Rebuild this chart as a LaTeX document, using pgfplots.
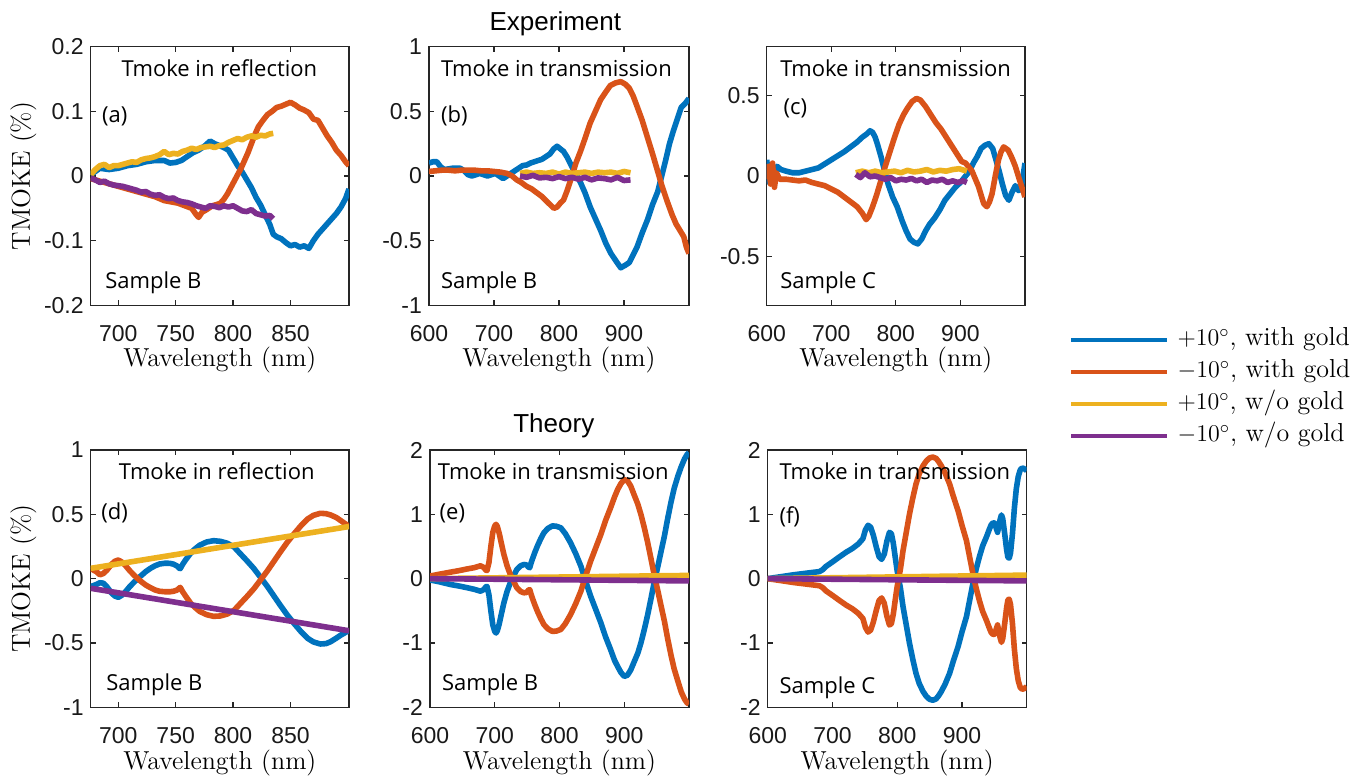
\documentclass[border=0pt]{standalone}
\usepackage{fontspec}
\usepackage{pgfplots}
\pgfplotsset{compat=1.18}
\newfontfamily\arial{Liberation Sans}
\newfontfamily\osans{Open Sans}
\definecolor{mblue}{rgb}{0,0.447,0.741}
\definecolor{morange}{rgb}{0.85,0.325,0.098}
\definecolor{myellow}{rgb}{0.929,0.694,0.125}
\definecolor{mpurple}{rgb}{0.494,0.184,0.556}
\pgfplotsset{
  every axis title shift=0pt,
  panel/.style={
    scale only axis, anchor=south west,
    axis line style={line width=0.6pt, black!85},
    every tick/.style={line width=0.6pt, black!85},
    major tick length=2.5pt,
    tick align=inside,
    tick label style={font=\arial\fontsize{11.5}{13}\selectfont, black!90},
    xticklabel style={yshift=-6.5pt},
    xlabel={Wavelength (nm)},
    xlabel style={font=\fontsize{13}{15}\selectfont, at={(axis description cs:0.5,-0.212)}, anchor=center},
    ylabel style={font=\fontsize{13}{15}\selectfont, at={(axis description cs:-0.261,0.5)}, anchor=center},
    every axis plot/.append style={line width=2.8pt, line join=round, mark=none},
  },
}
\tikzset{ann/.style={font=\osans\fontsize{11}{13}\selectfont, inner sep=0pt, anchor=west}}
\begin{document}
\begin{tikzpicture}
\useasboundingbox (0,0) rectangle (685.5pt,388.5pt);
% ---------------- (a)
\begin{axis}[panel, at={(45.35pt,235.85pt)}, width=129.15pt, height=129.3pt,
  xmin=676, xmax=901, ymin=-0.2, ymax=0.2,
  xtick={700,750,800,850}, xticklabels={700,750,800,850},
  ytick={-0.2,-0.1,0,0.1,0.2}, yticklabels={-0.2,-0.1,0,0.1,0.2},
  ylabel={TMOKE (\%)}]
\addplot[mblue] coordinates {(676,0.002) (684,0.012) (692,0.010) (700,0.012) (708,0.016) (716,0.018) (724,0.022) (732,0.024) (740,0.024) (745,0.020) (750,0.021) (755,0.024) (760,0.030) (765,0.036) (770,0.040) (775,0.046) (780,0.054) (784,0.050) (788,0.047) (792,0.044) (796,0.040) (800,0.028) (804,0.016) (808,0.006) (812,-0.006) (816,-0.018) (820,-0.033) (824,-0.045) (828,-0.060) (832,-0.075) (835,-0.090) (838,-0.094) (842,-0.097) (846,-0.103) (850,-0.108) (854,-0.106) (858,-0.110) (862,-0.108) (866,-0.112) (870,-0.100) (874,-0.090) (878,-0.082) (882,-0.074) (886,-0.066) (890,-0.058) (894,-0.048) (898,-0.035) (901,-0.020)};
\addplot[morange] coordinates {(676,-0.004) (684,-0.008) (692,-0.012) (700,-0.016) (708,-0.020) (716,-0.024) (724,-0.028) (732,-0.032) (740,-0.038) (746,-0.040) (752,-0.042) (758,-0.046) (764,-0.050) (768,-0.060) (770,-0.064) (773,-0.056) (777,-0.052) (782,-0.046) (786,-0.044) (789,-0.042) (792,-0.036) (795,-0.028) (798,-0.018) (801,-0.008) (804,0.002) (807,0.012) (810,0.024) (813,0.036) (816,0.050) (819,0.064) (822,0.076) (826,0.086) (830,0.095) (834,0.100) (838,0.106) (842,0.108) (846,0.111) (850,0.114) (854,0.110) (858,0.105) (862,0.102) (866,0.098) (870,0.088) (874,0.086) (878,0.074) (882,0.062) (886,0.052) (890,0.040) (894,0.032) (898,0.022) (901,0.016)};
\addplot[myellow] coordinates {(676,0.002) (680,0.010) (684,0.016) (688,0.018) (692,0.013) (696,0.016) (700,0.016) (704,0.018) (708,0.020) (712,0.022) (716,0.021) (720,0.025) (724,0.027) (728,0.028) (732,0.030) (736,0.033) (740,0.038) (744,0.033) (748,0.035) (752,0.034) (756,0.038) (760,0.040) (764,0.043) (768,0.041) (772,0.044) (776,0.045) (780,0.046) (784,0.044) (788,0.047) (792,0.048) (796,0.052) (800,0.055) (804,0.058) (808,0.056) (812,0.060) (816,0.062) (820,0.060) (824,0.063) (828,0.062) (832,0.065) (835,0.066)};
\addplot[mpurple] coordinates {(676,-0.003) (680,-0.006) (684,-0.010) (688,-0.008) (692,-0.012) (696,-0.014) (700,-0.015) (704,-0.016) (708,-0.018) (712,-0.020) (716,-0.022) (720,-0.025) (724,-0.024) (728,-0.028) (732,-0.030) (736,-0.029) (740,-0.033) (744,-0.035) (748,-0.034) (752,-0.038) (756,-0.040) (760,-0.041) (764,-0.043) (768,-0.046) (772,-0.048) (776,-0.050) (780,-0.046) (784,-0.047) (788,-0.049) (792,-0.046) (796,-0.048) (800,-0.046) (804,-0.050) (808,-0.054) (812,-0.055) (816,-0.052) (820,-0.058) (824,-0.060) (828,-0.062) (832,-0.061) (835,-0.066)};
\node[ann, anchor=center] at (rel axis cs:0.498,0.918) {Tmoke in reflection};
\node[ann] at (rel axis cs:0.043,0.73) {(a)};
\node[ann] at (rel axis cs:0.055,0.086) {Sample B};
\end{axis}
% ---------------- (b)
\begin{axis}[panel, at={(214.5pt,235.85pt)}, width=130pt, height=129.3pt,
  xmin=600, xmax=1000, ymin=-1, ymax=1,
  xtick={600,700,800,900}, xticklabels={600,700,800,900},
  ytick={-1,-0.5,0,0.5,1}, yticklabels={-1,-0.5,0,0.5,1},
  title={Experiment}, title style={font=\arial\fontsize{13}{15}\selectfont, at={(axis description cs:0.486,1.087)}, anchor=center}]
\addplot[mblue] coordinates {(600,0.10) (606,0.11) (612,0.11) (618,0.07) (624,0.05) (630,0.055) (636,0.06) (642,0.06) (648,0.06) (654,0.04) (660,0.01) (666,0.00) (672,0.01) (678,0.02) (684,0.01) (690,0.00) (696,0.01) (702,0.02) (708,0.00) (714,-0.02) (720,0.00) (726,0.02) (732,0.04) (738,0.06) (744,0.08) (750,0.085) (756,0.10) (762,0.11) (768,0.12) (774,0.13) (780,0.15) (786,0.17) (792,0.21) (797,0.23) (802,0.21) (807,0.19) (812,0.15) (817,0.10) (822,0.05) (828,0.00) (833,-0.05) (840,-0.13) (848,-0.24) (856,-0.33) (864,-0.42) (872,-0.52) (880,-0.60) (888,-0.66) (895,-0.71) (902,-0.69) (908,-0.67) (914,-0.61) (920,-0.55) (928,-0.44) (936,-0.34) (944,-0.22) (952,-0.12) (958,0.00) (964,0.12) (970,0.25) (976,0.35) (982,0.44) (988,0.53) (994,0.56) (1000,0.60)};
\addplot[morange] coordinates {(600,0.035) (610,0.04) (620,0.045) (630,0.045) (640,0.04) (650,0.045) (660,0.045) (670,0.045) (680,0.04) (690,0.04) (700,0.035) (710,0.03) (720,0.02) (728,0.00) (735,-0.03) (742,-0.05) (750,-0.08) (758,-0.10) (766,-0.13) (774,-0.16) (782,-0.20) (788,-0.23) (792,-0.25) (797,-0.24) (802,-0.21) (807,-0.185) (812,-0.12) (816,-0.06) (820,0.00) (826,0.10) (833,0.19) (840,0.29) (848,0.41) (856,0.50) (864,0.59) (872,0.65) (879,0.70) (887,0.72) (895,0.73) (902,0.71) (908,0.68) (914,0.62) (920,0.54) (928,0.43) (936,0.30) (944,0.17) (951,0.05) (958,-0.07) (966,-0.19) (974,-0.30) (980,-0.37) (986,-0.42) (992,-0.47) (996,-0.55) (1000,-0.60)};
\addplot[myellow] coordinates {(740,0.02) (750,0.03) (760,0.02) (770,0.025) (780,0.02) (790,0.03) (800,0.015) (810,0.03) (820,0.02) (830,0.025) (840,0.03) (850,0.02) (860,0.03) (870,0.025) (880,0.03) (890,0.02) (900,0.035) (910,0.025)};
\addplot[mpurple] coordinates {(740,0.00) (750,-0.01) (760,0.005) (770,-0.015) (780,-0.01) (790,-0.02) (800,-0.005) (810,-0.02) (820,-0.01) (830,-0.025) (840,-0.01) (850,-0.03) (860,-0.015) (870,-0.02) (880,-0.03) (890,-0.01) (900,-0.035) (910,-0.03)};
\node[ann] at (rel axis cs:0.045,0.918) {Tmoke in transmission};
\node[ann] at (rel axis cs:0.045,0.733) {(b)};
\node[ann] at (rel axis cs:0.045,0.086) {Sample B};
\end{axis}
% ---------------- (c)
\begin{axis}[panel, at={(383.35pt,235.85pt)}, width=129.15pt, height=129.3pt,
  xmin=600, xmax=1000, ymin=-0.8, ymax=0.8,
  xtick={600,700,800,900}, xticklabels={600,700,800,900},
  ytick={-0.5,0,0.5}, yticklabels={-0.5,0,0.5},
  legend style={at={(axis description cs:1.172,-0.08)}, anchor=north west, draw=none, fill=none, inner sep=0pt, outer sep=0pt, row sep=2pt, column sep=3.5pt, font=\fontsize{13}{15}\selectfont, nodes={inner sep=1pt, text height=9pt, text depth=3pt}},
  legend cell align=left,
  legend image code/.code={\draw[#1, line width=1.6pt, line cap=butt] (0pt,0pt) -- (48pt,0pt);}]
\addplot[mblue] coordinates {(600,0.10) (604,-0.04) (608,0.06) (612,-0.02) (616,0.06) (622,0.04) (630,0.03) (640,0.02) (650,0.02) (660,0.03) (670,0.04) (680,0.05) (690,0.075) (700,0.10) (710,0.125) (720,0.15) (730,0.18) (740,0.21) (748,0.24) (755,0.26) (760,0.28) (764,0.27) (768,0.24) (772,0.19) (777,0.12) (782,0.04) (788,-0.05) (795,-0.13) (802,-0.19) (810,-0.28) (816,-0.34) (822,-0.39) (828,-0.41) (834,-0.42) (840,-0.39) (846,-0.34) (852,-0.30) (860,-0.26) (868,-0.21) (876,-0.15) (884,-0.11) (892,-0.07) (900,-0.04) (908,0.00) (914,0.03) (920,0.08) (926,0.12) (932,0.17) (938,0.19) (944,0.20) (950,0.17) (955,0.10) (960,0.03) (965,-0.05) (970,-0.12) (975,-0.15) (980,-0.10) (985,-0.06) (990,-0.09) (994,-0.08) (1000,0.08)};
\addlegendentry{$+10^\circ$, with gold}
\addplot[morange] coordinates {(600,-0.02) (603,0.06) (606,-0.05) (609,0.08) (612,-0.07) (615,0.02) (620,-0.02) (630,-0.02) (640,-0.025) (650,-0.03) (660,-0.025) (670,-0.04) (680,-0.05) (690,-0.06) (700,-0.08) (710,-0.10) (720,-0.13) (730,-0.16) (740,-0.19) (748,-0.23) (754,-0.27) (758,-0.25) (764,-0.19) (770,-0.12) (776,-0.04) (782,0.04) (790,0.14) (798,0.24) (805,0.32) (812,0.38) (818,0.42) (825,0.46) (832,0.48) (838,0.47) (846,0.43) (854,0.38) (862,0.33) (870,0.29) (878,0.24) (886,0.19) (894,0.14) (902,0.09) (908,0.08) (918,0.03) (928,-0.065) (936,-0.17) (941,-0.19) (945,-0.16) (949,-0.11) (954,0.00) (959,0.10) (963,0.15) (967,0.18) (974,0.16) (980,0.11) (985,0.06) (992,-0.03) (1000,-0.13)};
\addlegendentry{$-10^\circ$, with gold}
\addplot[myellow] coordinates {(738,0.02) (748,0.03) (758,0.02) (768,0.03) (778,0.02) (788,0.025) (798,0.03) (808,0.02) (818,0.035) (828,0.025) (838,0.03) (848,0.04) (858,0.025) (868,0.035) (878,0.03) (888,0.04) (898,0.045) (910,0.03)};
\addlegendentry{$+10^\circ$, w/o gold}
\addplot[mpurple] coordinates {(738,0.01) (745,-0.01) (752,0.02) (760,-0.005) (768,0.0) (776,-0.01) (784,-0.02) (792,-0.01) (800,-0.03) (808,-0.02) (816,-0.025) (824,-0.015) (832,-0.03) (840,-0.02) (848,-0.04) (856,-0.025) (864,-0.03) (872,-0.02) (880,-0.04) (888,-0.03) (896,-0.04) (904,-0.03) (910,-0.04)};
\addlegendentry{$-10^\circ$, w/o gold}
\node[ann] at (rel axis cs:0.051,0.918) {Tmoke in transmission};
\node[ann] at (rel axis cs:0.064,0.763) {(c)};
\node[ann] at (rel axis cs:0.051,0.086) {Sample C};
\end{axis}
% ---------------- (d)
\begin{axis}[panel, at={(45.35pt,34.85pt)}, width=129.15pt, height=128.65pt,
  xmin=676, xmax=901, ymin=-1, ymax=1,
  xtick={700,750,800,850}, xticklabels={700,750,800,850},
  ytick={-1,-0.5,0,0.5,1}, yticklabels={-1,-0.5,0,0.5,1},
  ylabel={TMOKE (\%)}, xlabel style={at={(axis description cs:0.5,-0.217)}}]
\addplot[mblue] coordinates {(676,-0.062) (681,-0.045) (684,-0.032) (687,-0.035) (690,-0.062) (694,-0.11) (697,-0.135) (700,-0.145) (703,-0.13) (706,-0.105) (710,-0.062) (714,-0.025) (719,0.016) (724,0.055) (728,0.08) (732,0.10) (736,0.114) (741,0.12) (745,0.119) (748,0.113) (751,0.10) (753,0.082) (754,0.078) (756,0.110) (759,0.15) (763,0.197) (767,0.232) (771,0.26) (777,0.285) (783,0.295) (789,0.29) (795,0.275) (801,0.245) (806,0.197) (812,0.14) (818,0.08) (824,0.01) (830,-0.062) (836,-0.14) (841,-0.205) (847,-0.28) (853,-0.347) (859,-0.41) (865,-0.464) (870,-0.492) (876,-0.508) (881,-0.505) (885,-0.49) (890,-0.462) (894,-0.438) (898,-0.418) (901,-0.400)};
\addplot[morange] coordinates {(676,0.078) (681,0.054) (684,0.030) (687,0.040) (690,0.065) (694,0.11) (697,0.135) (700,0.145) (703,0.13) (706,0.105) (710,0.062) (714,0.025) (719,-0.016) (724,-0.05) (728,-0.07) (732,-0.088) (736,-0.098) (741,-0.102) (745,-0.102) (748,-0.098) (751,-0.09) (753,-0.075) (754,-0.068) (756,-0.10) (759,-0.14) (763,-0.19) (767,-0.225) (771,-0.255) (777,-0.28) (783,-0.293) (789,-0.29) (795,-0.275) (801,-0.245) (806,-0.197) (812,-0.14) (818,-0.08) (824,-0.01) (830,0.062) (836,0.14) (841,0.205) (847,0.28) (853,0.347) (859,0.41) (865,0.464) (870,0.492) (876,0.508) (881,0.505) (885,0.495) (890,0.475) (894,0.45) (898,0.425) (901,0.405)};
\addplot[myellow] coordinates {(676,0.08) (901,0.405)};
\addplot[mpurple] coordinates {(676,-0.075) (901,-0.405)};
\node[ann, anchor=center] at (rel axis cs:0.488,0.916) {Tmoke in reflection};
\node[ann] at (rel axis cs:0.04,0.754) {(d)};
\node[ann] at (rel axis cs:0.059,0.087) {Sample B};
\end{axis}
% ---------------- (e)
\begin{axis}[panel, at={(215pt,34.85pt)}, width=129.5pt, height=128.65pt,
  xmin=600, xmax=1000, ymin=-2, ymax=2,
  xtick={600,700,800,900}, xticklabels={600,700,800,900},
  ytick={-2,-1,0,1,2}, yticklabels={-2,-1,0,1,2},
  xlabel style={at={(axis description cs:0.5,-0.217)}},
  title={Theory}, title style={font=\arial\fontsize{13}{15}\selectfont, at={(axis description cs:0.478,1.094)}, anchor=center}]
\addplot[mblue] coordinates {(600,-0.02) (615,-0.05) (631,-0.09) (645,-0.115) (657,-0.14) (668,-0.165) (678,-0.195) (683,-0.17) (686,-0.13) (688,-0.12) (691,-0.25) (694,-0.50) (697,-0.72) (700,-0.82) (702,-0.845) (704,-0.81) (707,-0.70) (710,-0.56) (714,-0.38) (719,-0.20) (724,-0.065) (729,0.04) (734,0.14) (740,0.20) (745,0.22) (749,0.215) (752,0.18) (754,0.17) (756,0.24) (758,0.30) (762,0.41) (766,0.51) (771,0.62) (776,0.715) (782,0.78) (789,0.82) (795,0.815) (802,0.79) (809,0.70) (817,0.56) (825,0.39) (833,0.195) (840,-0.03) (848,-0.27) (856,-0.48) (864,-0.69) (871,-0.90) (879,-1.105) (885,-1.27) (890,-1.37) (895,-1.46) (900,-1.52) (905,-1.50) (910,-1.42) (915,-1.30) (921,-1.157) (926,-0.99) (931,-0.79) (936,-0.57) (941,-0.325) (946,-0.07) (952,0.195) (957,0.43) (962,0.66) (967,0.93) (972,1.18) (977,1.40) (983,1.60) (988,1.74) (993,1.86) (997,1.93) (1000,1.96)};
\addplot[morange] coordinates {(600,0.04) (615,0.07) (631,0.10) (645,0.125) (657,0.15) (668,0.17) (678,0.20) (683,0.175) (686,0.135) (688,0.125) (691,0.25) (694,0.50) (697,0.72) (700,0.82) (702,0.845) (704,0.81) (707,0.70) (710,0.56) (714,0.38) (719,0.20) (724,0.065) (729,-0.04) (734,-0.14) (740,-0.20) (745,-0.22) (749,-0.215) (752,-0.18) (754,-0.17) (756,-0.24) (758,-0.30) (762,-0.41) (766,-0.51) (771,-0.62) (776,-0.715) (782,-0.78) (789,-0.82) (795,-0.815) (802,-0.79) (809,-0.70) (817,-0.56) (825,-0.39) (833,-0.195) (840,0.03) (848,0.27) (856,0.48) (864,0.69) (871,0.90) (879,1.105) (885,1.27) (890,1.39) (895,1.48) (900,1.54) (905,1.52) (910,1.44) (915,1.31) (921,1.157) (926,0.99) (931,0.79) (936,0.57) (941,0.325) (946,0.07) (952,-0.195) (957,-0.43) (962,-0.66) (967,-0.93) (972,-1.18) (977,-1.40) (983,-1.60) (988,-1.76) (993,-1.87) (997,-1.93) (1000,-1.95)};
\addplot[myellow] coordinates {(600,0.0) (1000,0.05)};
\addplot[mpurple] coordinates {(600,0.0) (1000,-0.035)};
\node[ann] at (rel axis cs:0.029,0.916) {Tmoke in transmission};
\node[ann] at (rel axis cs:0.036,0.754) {(e)};
\node[ann] at (rel axis cs:0.045,0.087) {Sample B};
\end{axis}
% ---------------- (f)
\begin{axis}[panel, at={(383.85pt,34.85pt)}, width=129.5pt, height=128.65pt,
  xmin=600, xmax=1000, ymin=-2, ymax=2,
  xtick={600,700,800,900}, xticklabels={600,700,800,900},
  ytick={-2,-1,0,1,2}, yticklabels={-2,-1,0,1,2},
  xlabel style={at={(axis description cs:0.5,-0.217)}}]
\addplot[mblue] coordinates {(600,0.0) (620,0.03) (640,0.06) (660,0.085) (680,0.11) (685,0.14) (690,0.19) (700,0.26) (711,0.34) (721,0.41) (731,0.47) (740,0.54) (747,0.62) (751,0.76) (755,0.83) (759,0.80) (763,0.68) (768,0.48) (772,0.34) (776,0.30) (780,0.38) (784,0.58) (788,0.72) (791,0.70) (794,0.55) (797,0.33) (800,0.12) (805,-0.15) (809,-0.435) (814,-0.72) (819,-1.005) (824,-1.25) (829,-1.47) (834,-1.63) (840,-1.756) (845,-1.83) (850,-1.876) (855,-1.89) (860,-1.87) (864,-1.82) (868,-1.756) (874,-1.64) (881,-1.47) (887,-1.27) (894,-1.057) (900,-0.83) (907,-0.59) (912,-0.33) (917,-0.073) (922,0.15) (927,0.342) (932,0.51) (938,0.653) (942,0.76) (945,0.834) (948,0.87) (951,0.86) (953,0.78) (955,0.72) (957,0.82) (959,0.92) (961,0.99) (963,0.93) (966,0.70) (969,0.45) (971,0.33) (973,0.32) (975,0.40) (978,0.70) (981,1.10) (984,1.40) (987,1.59) (990,1.69) (993,1.72) (996,1.71) (1000,1.68)};
\addplot[morange] coordinates {(600,0.0) (620,-0.03) (640,-0.06) (660,-0.085) (680,-0.11) (685,-0.14) (690,-0.19) (700,-0.26) (711,-0.34) (721,-0.41) (731,-0.47) (740,-0.54) (747,-0.62) (751,-0.76) (755,-0.83) (759,-0.80) (763,-0.68) (768,-0.48) (772,-0.34) (776,-0.30) (780,-0.38) (784,-0.58) (788,-0.72) (791,-0.70) (794,-0.55) (797,-0.33) (800,-0.12) (805,0.15) (809,0.435) (814,0.72) (819,1.005) (824,1.25) (829,1.47) (834,1.63) (840,1.756) (845,1.83) (850,1.876) (855,1.89) (860,1.87) (864,1.82) (868,1.756) (874,1.64) (881,1.47) (887,1.27) (894,1.057) (900,0.83) (907,0.59) (912,0.33) (917,0.073) (922,-0.15) (927,-0.342) (932,-0.51) (938,-0.653) (942,-0.76) (945,-0.834) (948,-0.87) (951,-0.86) (953,-0.78) (955,-0.72) (957,-0.82) (959,-0.92) (961,-0.99) (963,-0.93) (966,-0.70) (969,-0.45) (971,-0.33) (973,-0.32) (975,-0.40) (978,-0.70) (981,-1.10) (984,-1.40) (987,-1.59) (990,-1.69) (993,-1.72) (996,-1.71) (1000,-1.68)};
\addplot[myellow] coordinates {(600,0.0) (1000,0.055)};
\addplot[mpurple] coordinates {(600,0.0) (1000,-0.035)};
\node[ann] at (rel axis cs:0.044,0.916) {Tmoke in transmission};
\node[ann] at (rel axis cs:0.044,0.741) {(f)};
\node[ann] at (rel axis cs:0.044,0.074) {Sample C};
\end{axis}
\end{tikzpicture}
\end{document}
